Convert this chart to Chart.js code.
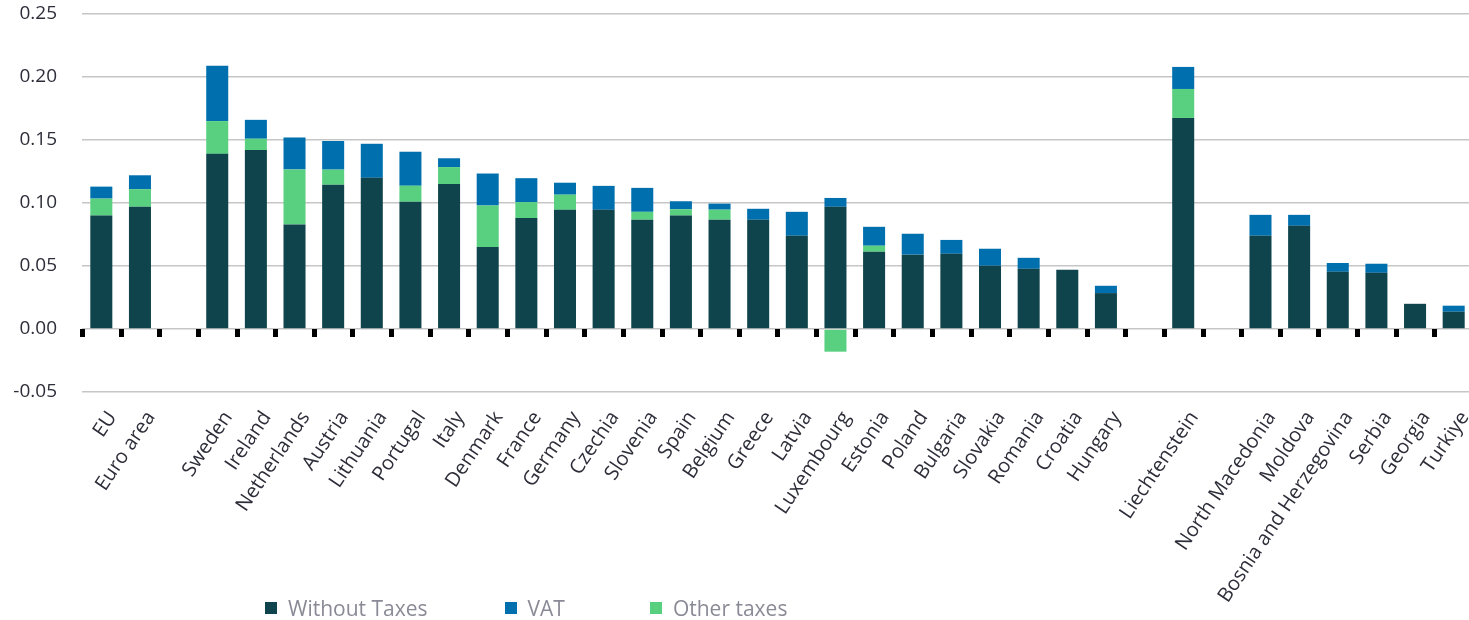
<!DOCTYPE html>
<html>
<head>
<meta charset="utf-8">
<script src="https://cdn.jsdelivr.net/npm/chart.js@4"></script>
<style>
  html, body { margin: 0; padding: 0; background: #ffffff; overflow: hidden; }
  #wrap { position: relative; width: 1469px; height: 620px; overflow: hidden; }
  #legend {
    position: absolute; left: 265px; top: 594px;
    display: flex; align-items: center;
    font-family: "Open Sans", sans-serif; font-size: 21px; color: #8a8a96;
  }
  .item { display: flex; align-items: center; }
  .box { width: 12px; height: 12px; margin-right: 11px; }
</style>
</head>
<body>
<div id="wrap">
  <canvas id="c" width="1473" height="620"></canvas>
  <div id="legend"></div>
</div>
<script>
// Countries (empty strings separate the groups)
const categories = [
  "EU", "Euro area", "",
  "Sweden", "Ireland", "Netherlands", "Austria", "Lithuania", "Portugal", "Italy",
  "Denmark", "France", "Germany", "Czechia", "Slovenia", "Spain", "Belgium", "Greece",
  "Latvia", "Luxembourg", "Estonia", "Poland", "Bulgaria", "Slovakia", "Romania",
  "Croatia", "Hungary", "",
  "Liechtenstein", "",
  "North Macedonia", "Moldova", "Bosnia and Herzegovina", "Serbia", "Georgia", "Turkiye"
];

// Price components per country
const withoutTaxes = [
  0.090, 0.097, null,
  0.139, 0.142, 0.083, 0.1145, 0.120, 0.101, 0.115,
  0.065, 0.088, 0.0946, 0.0946, 0.0867, 0.090, 0.0867, 0.0867,
  0.074, 0.097, 0.0613, 0.059, 0.0597, 0.0502, 0.0478,
  0.047, 0.0285, null,
  0.1675, null,
  0.074, 0.0819, 0.0454, 0.0446, 0.020, 0.0137
];
const otherTaxes = [
  0.0135, 0.014, null,
  0.026, 0.009, 0.0436, 0.012, 0, 0.0127, 0.0135,
  0.033, 0.0127, 0.012, 0, 0.0063, 0.005, 0.008, 0,
  0, -0.018, 0.0048, 0, 0, 0, 0,
  0, 0, null,
  0.023, null,
  0, 0, 0, 0, 0, 0
];
const vat = [
  0.0095, 0.011, null,
  0.044, 0.015, 0.0254, 0.0227, 0.027, 0.027, 0.007,
  0.0254, 0.019, 0.0095, 0.019, 0.019, 0.0064, 0.0048, 0.0087,
  0.019, 0.007, 0.015, 0.0166, 0.011, 0.0135, 0.0087,
  0, 0.0058, null,
  0.0175, null,
  0.0166, 0.0087, 0.007, 0.0072, 0, 0.0048
];

const yTicks = [-0.05, 0.00, 0.05, 0.10, 0.15, 0.20, 0.25];

const COLORS = { base: "#0f444c", vat: "#006fae", other: "#59cf80" };

// Small black tick marks on the zero line, at the left edge of each category
const zeroTicks = {
  id: "zeroTicks",
  afterDatasetsDraw(chart) {
    const xs = chart.scales.x, ys = chart.scales.y;
    const y0 = ys.getPixelForValue(0);
    const n = chart.data.labels.length;
    const step = n > 1 ? xs.getPixelForValue(1) - xs.getPixelForValue(0) : xs.width;
    const ctx = chart.ctx;
    ctx.save();
    ctx.fillStyle = "#000000";
    for (let i = 0; i < n; i++) {
      const x = xs.getPixelForValue(i) - step / 2;
      ctx.fillRect(Math.round(x) - 2, Math.round(y0), 5, 8);
    }
    ctx.restore();
  }
};

const chart = new Chart(document.getElementById("c"), {
  type: "bar",
  data: {
    labels: categories,
    datasets: [
      { label: "Without Taxes", data: withoutTaxes, backgroundColor: COLORS.base },
      { label: "Other taxes", data: otherTaxes, backgroundColor: COLORS.other },
      { label: "VAT", data: vat, backgroundColor: COLORS.vat }
    ]
  },
  options: {
    responsive: false,
    animation: false,
    layout: { padding: { top: 14, right: 0, left: 0, bottom: 0 } },
    datasets: { bar: { categoryPercentage: 1.0, barPercentage: 0.57 } },
    plugins: {
      legend: { display: false },
      tooltip: { enabled: false }
    },
    scales: {
      x: {
        stacked: true,
        grid: { display: false },
        border: { display: false },
        ticks: {
          autoSkip: false,
          maxRotation: 56,
          minRotation: 56,
          padding: 7,
          labelOffset: 11,
          color: "#2e2e3a",
          font: { family: "Open Sans", size: 20 }
        },
        afterFit(scale) {
          scale.height = 228;
          scale.paddingLeft = 0;
          scale.paddingRight = 0;
        }
      },
      y: {
        stacked: true,
        min: -0.05,
        max: 0.25,
        afterBuildTicks(scale) { scale.ticks = yTicks.map(v => ({ value: v })); },
        grid: { color: "#c6c6c6", lineWidth: 1.5, drawTicks: false },
        border: { display: false },
        ticks: {
          padding: 25,
          color: "#2e2e3a",
          font: { family: "Open Sans", size: 19 },
          callback: v => Number(v).toFixed(2)
        },
        afterFit(scale) {
          scale.width = 82;
          scale.paddingTop = 0;
          scale.paddingBottom = 0;
        }
      }
    }
  },
  plugins: [zeroTicks]
});

// Legend built from the datasets, in display order
const legendOrder = [0, 2, 1];
const legendEl = document.getElementById("legend");
const legendGaps = [77, 85, 0];
legendOrder.forEach((di, k) => {
  const ds = chart.data.datasets[di];
  const item = document.createElement("div");
  item.className = "item";
  item.style.marginRight = legendGaps[k] + "px";
  const box = document.createElement("span");
  box.className = "box";
  box.style.background = ds.backgroundColor;
  const txt = document.createElement("span");
  txt.textContent = ds.label;
  item.appendChild(box);
  item.appendChild(txt);
  legendEl.appendChild(item);
});
</script>
</body>
</html>
